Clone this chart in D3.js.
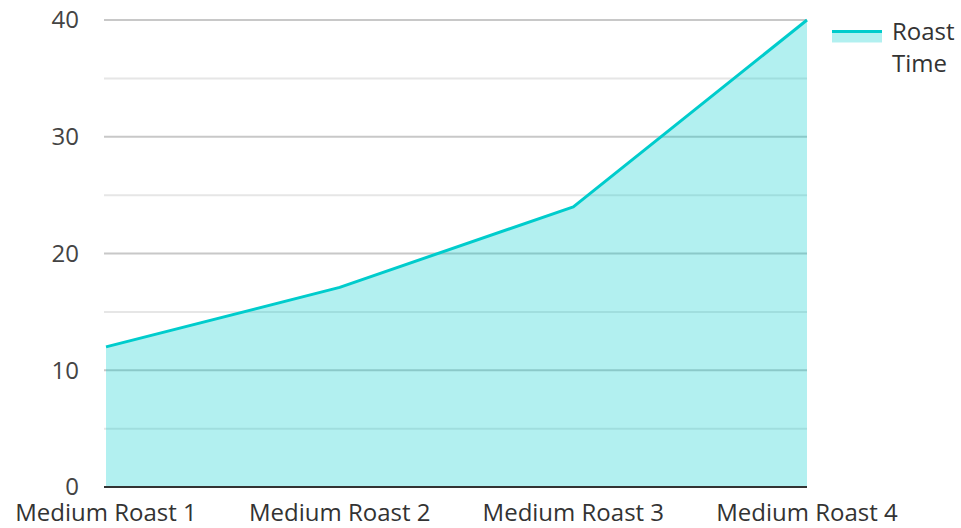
<!DOCTYPE html>
<html>
<head>
<meta charset="utf-8">
<script src="https://cdn.jsdelivr.net/npm/d3@7"></script>
<style>
  body { margin: 0; background: #fff; }
  text { font-family: "Open Sans", sans-serif; }
</style>
</head>
<body>
<svg></svg>
<script>
const width = 961
const height = 528

// Data
const categories = ["Medium Roast 1", "Medium Roast 2", "Medium Roast 3", "Medium Roast 4"]
const roastTime = [12, 17.1, 24, 40]
const majorTicks = [0, 10, 20, 30, 40]
const minorTicks = [5, 15, 25, 35]
const seriesName = ["Roast", "Time"]

const lineColor = "#00cccc"
const fillColor = "rgba(0, 204, 204, 0.3)"

const margin = { left: 105, right: 154, top: 20, bottom: 41 }

const svg = d3.select("svg")
    .attr("width", width)
    .attr("height", height)

const x = d3.scalePoint()
    .domain(categories)
    .range([margin.left + 1, width - margin.right])
    .padding(0)

const y = d3.scaleLinear()
    .domain([0, 40])
    .range([height - margin.bottom, margin.top])

// gridlines
svg.append("g")
    .selectAll("line")
    .data(minorTicks)
    .enter()
    .append("line")
    .attr("x1", margin.left - 1)
    .attr("x2", width - margin.right)
    .attr("y1", d => y(d))
    .attr("y2", d => y(d))
    .attr("stroke", "#e6e6e6")
    .attr("stroke-width", 2)

svg.append("g")
    .selectAll("line")
    .data(majorTicks.filter(d => d > 0))
    .enter()
    .append("line")
    .attr("x1", margin.left - 1)
    .attr("x2", width - margin.right)
    .attr("y1", d => y(d))
    .attr("y2", d => y(d))
    .attr("stroke", "#c8c8c8")
    .attr("stroke-width", 2)

const points = categories.map((c, i) => ({ c, v: roastTime[i] }))

svg.append("path")
    .datum(points)
    .attr("fill", fillColor)
    .attr("d", d3.area().x(d => x(d.c)).y0(y(0)).y1(d => y(d.v)))

svg.append("path")
    .datum(points)
    .attr("fill", "none")
    .attr("stroke", lineColor)
    .attr("stroke-width", 3)
    .attr("stroke-linejoin", "round")
    .attr("d", d3.line().x(d => x(d.c)).y(d => y(d.v)))

// baseline
svg.append("line")
    .attr("x1", margin.left - 1)
    .attr("x2", width - margin.right)
    .attr("y1", y(0))
    .attr("y2", y(0))
    .attr("stroke", "#333")
    .attr("stroke-width", 2)

// y labels
svg.append("g")
    .selectAll("text")
    .data(majorTicks)
    .enter()
    .append("text")
    .attr("x", 79)
    .attr("y", d => y(d))
    .attr("dy", "0.35em")
    .attr("text-anchor", "end")
    .attr("font-size", 24)
    .attr("fill", "#444")
    .text(d => d)

// x labels
svg.append("g")
    .selectAll("text")
    .data(categories)
    .enter()
    .append("text")
    .attr("x", d => x(d))
    .attr("y", 521)
    .attr("text-anchor", "middle")
    .attr("font-size", 24)
    .attr("fill", "#333")
    .text(d => d)

// legend
const legend = svg.append("g")
legend.append("rect")
    .attr("x", 832).attr("y", 31.5)
    .attr("width", 50).attr("height", 11)
    .attr("fill", fillColor)
legend.append("line")
    .attr("x1", 832).attr("x2", 882)
    .attr("y1", 31.5).attr("y2", 31.5)
    .attr("stroke", lineColor)
    .attr("stroke-width", 3)
legend.selectAll("text")
    .data(seriesName)
    .enter()
    .append("text")
    .attr("x", 892)
    .attr("y", (d, i) => 40 + i * 32)
    .attr("font-size", 24)
    .attr("fill", "#333")
    .text(d => d)
</script>
</body>
</html>
